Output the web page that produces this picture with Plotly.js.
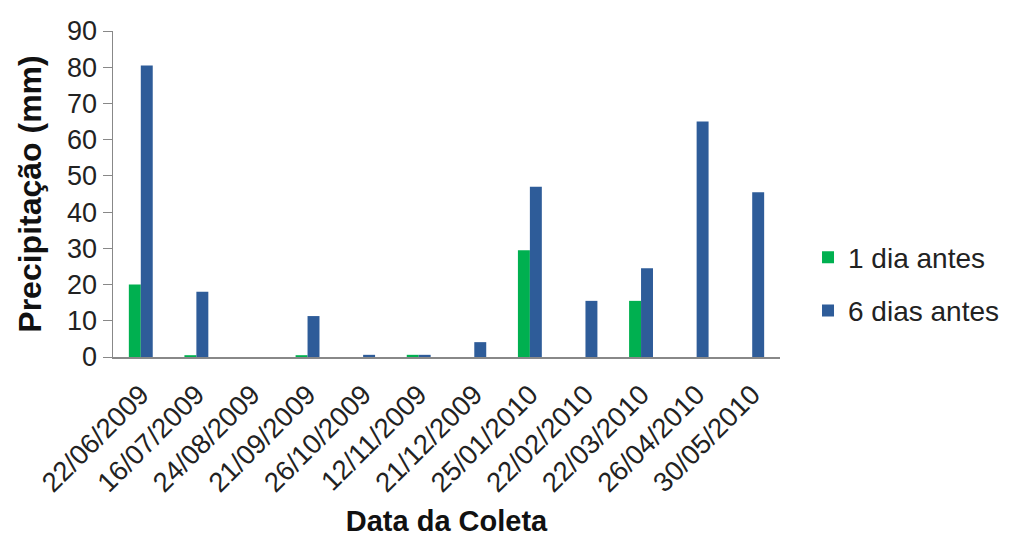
<!DOCTYPE html>
<html><head><meta charset="utf-8">
<script src="https://cdn.plot.ly/plotly-3.0.1.min.js"></script>
<style>body{margin:0;background:#fff}#c{width:1022px;height:537px}</style>
</head><body><div id="c"></div>
<script>
const categories = ["22/06/2009","16/07/2009","24/08/2009","21/09/2009","26/10/2009","12/11/2009","21/12/2009","25/01/2010","22/02/2010","22/03/2010","26/04/2010","30/05/2010"];
const umDia = [20, 0.5, 0, 0.5, 0, 0.6, 0, 29.5, 0, 15.5, 0, 0];
const seisDias = [80.5, 18, 0, 11.3, 0.6, 0.6, 4.1, 47, 15.5, 24.5, 65, 45.5];
const yTicks = [0,10,20,30,40,50,60,70,80,90];
const F = "Liberation Sans, Arial, sans-serif";
Plotly.newPlot('c', [
  {type:'bar', name:'1 dia antes', legendgroup:'a', x:categories, y:umDia, marker:{color:'#00b050'}},
  {type:'bar', name:'6 dias antes', legendgroup:'b', x:categories, y:seisDias, marker:{color:'#2e5c99'}}
], {
  width:1022, height:537,
  margin:{l:113, r:242, t:31, b:180},
  paper_bgcolor:'#fff', plot_bgcolor:'#fff',
  barmode:'group', bargap:0.57, bargroupgap:0,
  font:{family:F, color:'#222'},
  xaxis:{type:'category', tickangle:-45, tickfont:{size:27.5, family:F, color:'#222'}, automargin:false,
    showline:true, linecolor:'#888', linewidth:1.5, ticks:'outside', ticklen:9, tickcolor:'rgba(0,0,0,0)', showgrid:false,
    title:{text:'<b>Data da Coleta</b>', font:{size:29, family:F, color:'#111'}, standoff:22}},
  yaxis:{range:[0,90], tickvals:yTicks, tickfont:{size:27, family:F, color:'#222'}, automargin:false,
    showline:true, linecolor:'#888', linewidth:1.5, ticks:'outside', ticklen:9, tickcolor:'#888',
    showgrid:false, zeroline:false,
    title:{text:'<b>Precipitação (mm)</b>', font:{size:32, family:F, color:'#111'}, standoff:16}},
  legend:{x:1.042, y:0.224, xanchor:'left', yanchor:'middle', font:{size:28, family:F, color:'#222'},
    traceorder:'grouped', tracegroupgap:14, itemwidth:30},
  showlegend:true
}, {displayModeBar:false, staticPlot:true});
</script></body></html>
